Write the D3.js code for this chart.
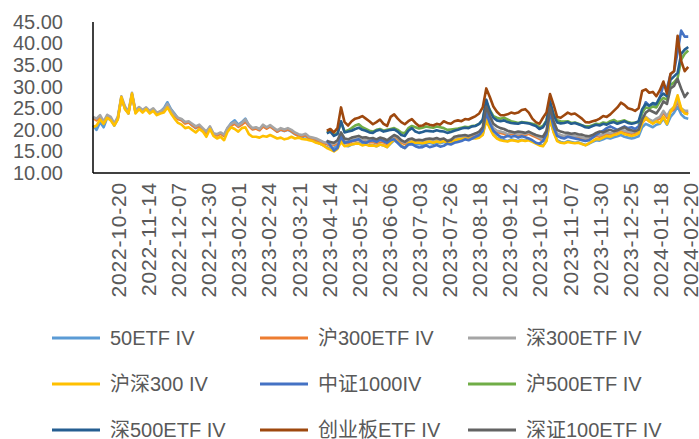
<!DOCTYPE html>
<html>
<head>
<meta charset="utf-8">
<script src="https://cdn.jsdelivr.net/npm/d3@7"></script>
<style>
  body { margin: 0; background: #fff; }
  text { font-family: "Liberation Sans", Arial, "Noto Sans CJK SC", sans-serif; fill: #595959; }
</style>
</head>
<body>
<div id="chart"></div>
<script>
// one point = 2 trading days, 2022-09 .. 2024-02-20
var tickDates = ["2022-10-20","2022-11-14","2022-12-07","2022-12-30","2023-02-01","2023-02-24",
  "2023-03-21","2023-04-14","2023-05-12","2023-06-06","2023-07-03","2023-07-26","2023-08-18",
  "2023-09-12","2023-10-13","2023-11-07","2023-11-30","2023-12-25","2024-01-18","2024-02-20"];
var firstTick = 7, tickStep = 8.5;   // in points
var yTicks = [10, 15, 20, 25, 30, 35, 40, 45];

var seriesNames = ["50ETF IV","沪300ETF IV","深300ETF IV","沪深300 IV","中证1000IV",
  "沪500ETF IV","深500ETF IV","创业板ETF IV","深证100ETF IV"];

var iv50Etf = [
  21.0,20.0,21.8,20.6,22.8,22.4,21.0,22.6,27.4,25.0,
  23.8,28.2,24.0,25.0,24.4,24.8,24.2,24.6,23.8,24.2,
  25.0,26.4,24.8,23.8,22.6,22.4,21.6,21.8,21.0,20.4,
  20.8,20.0,19.2,20.6,18.9,18.8,19.2,18.6,20.4,21.6,
  22.2,21.2,21.8,22.6,21.0,20.2,20.4,20.0,21.0,20.4,
  20.8,20.2,19.6,20.0,19.7,20.0,19.6,19.0,18.6,18.3,
  18.6,17.8,17.6,17.3,16.8,16.4,16.0,15.6,15.8,16.3,
  17.6,16.4,16.2,16.6,16.8,17.0,16.6,16.8,16.4,16.5,
  16.2,16.6,16.4,16.0,16.8,17.6,17.0,16.2,15.8,16.6,
  17.0,16.6,16.7,16.5,16.8,17.0,16.8,17.1,16.9,17.2,
  16.8,17.0,17.3,17.6,17.7,17.9,17.8,18.0,18.2,18.4,
  19.0,22.6,20.6,19.0,18.2,17.8,17.6,17.4,17.8,17.6,
  17.4,17.7,17.5,17.8,17.4,17.0,16.6,16.3,17.6,22.4,
  19.6,17.6,17.2,17.0,17.4,17.2,17.0,17.1,16.8,16.5,
  16.8,17.2,17.6,17.5,17.8,18.2,18.0,18.3,18.5,18.8,
  18.4,18.2,18.0,18.2,18.5,20.6,21.4,21.0,20.6,21.2,
  21.4,22.6,21.2,23.0,24.0,25.4,23.6,22.8,22.6];

var ivHu300Etf = [
  22.7,22.2,23.0,21.6,23.1,22.7,21.2,22.6,27.4,25.2,
  23.9,28.2,24.2,25.0,24.3,24.9,24.1,24.6,23.7,24.0,
  24.5,25.7,24.3,23.3,22.5,22.2,21.5,21.7,21.1,20.5,
  20.9,20.1,19.3,20.5,19.0,18.7,19.1,18.6,20.1,21.0,
  21.4,20.7,21.2,21.9,20.9,20.1,20.3,19.9,20.8,20.3,
  20.8,20.2,19.6,20.1,19.8,20.1,19.7,19.1,18.7,18.5,
  18.8,18.1,17.9,17.7,17.3,16.9,16.7,16.3,16.5,16.9,
  18.2,17.1,16.9,17.3,17.5,17.7,17.3,17.5,17.1,17.2,
  16.9,17.3,17.1,16.7,17.5,18.3,17.9,17.1,16.7,17.3,
  17.5,17.1,17.3,17.0,17.2,17.4,17.2,17.5,17.3,17.6,
  17.2,17.5,17.7,18.0,18.1,18.3,18.2,18.5,18.7,19.1,
  19.9,23.6,21.7,20.1,19.5,19.3,19.1,18.7,19.1,18.9,
  18.7,19.0,18.8,19.1,18.7,18.3,17.9,17.5,19.1,23.4,
  20.5,18.9,18.5,18.3,18.7,18.5,18.2,18.3,18.0,17.7,
  18.0,18.3,18.6,18.4,18.7,19.1,18.9,19.2,19.5,19.9,
  19.5,19.3,19.1,19.3,19.7,21.6,22.6,22.0,21.6,22.2,
  22.6,24.0,22.8,24.2,24.8,26.6,24.6,24.0,24.0];

var ivShen300Etf = [
  23.0,22.6,23.4,21.9,23.5,23.0,21.5,23.0,27.8,25.5,
  24.2,28.6,24.5,25.3,24.6,25.2,24.4,25.0,24.0,24.3,
  24.8,26.0,24.6,23.6,22.8,22.5,21.8,22.0,21.4,20.8,
  21.2,20.4,19.6,20.8,19.2,19.0,19.4,18.9,20.5,21.4,
  21.8,21.0,21.6,22.4,21.2,20.4,20.6,20.2,21.2,20.6,
  21.1,20.5,19.9,20.4,20.1,20.4,20.0,19.4,19.0,18.8,
  19.1,18.4,18.2,18.0,17.6,17.2,17.0,16.6,16.8,17.2,
  18.6,17.4,17.2,17.6,17.8,18.0,17.6,17.8,17.4,17.5,
  17.2,17.6,17.4,17.0,17.8,18.6,18.2,17.4,17.0,17.6,
  17.8,17.4,17.6,17.3,17.5,17.7,17.5,17.8,17.6,17.9,
  17.5,17.8,18.0,18.3,18.4,18.6,18.5,18.8,19.0,19.4,
  20.2,24.0,22.0,20.4,19.8,19.6,19.4,19.0,19.4,19.2,
  19.0,19.3,19.1,19.4,19.0,18.6,18.2,17.8,19.4,23.8,
  20.8,19.2,18.8,18.6,19.0,18.8,18.5,18.6,18.3,18.0,
  18.3,18.6,18.9,18.7,19.0,19.4,19.2,19.5,19.8,20.2,
  19.8,19.6,19.4,19.6,20.0,22.0,23.0,22.4,22.0,22.6,
  23.0,24.4,23.2,24.6,25.2,27.0,25.0,24.4,24.4];

var ivHs300 = [
  20.6,21.0,22.4,21.4,22.8,22.2,21.0,22.4,27.6,24.8,
  23.8,28.4,23.8,24.8,24.0,24.8,23.8,24.4,23.4,23.8,
  24.0,25.2,23.8,22.6,21.6,21.2,20.4,20.6,20.0,19.4,
  20.2,19.6,18.4,20.2,18.6,18.0,18.4,17.6,19.6,20.6,
  20.2,19.6,20.4,20.6,19.0,18.4,18.4,18.2,18.6,18.4,
  18.8,18.4,18.0,18.2,17.8,18.0,18.4,18.0,18.2,17.9,
  17.8,17.6,17.4,17.0,16.8,16.4,15.8,15.4,15.0,15.6,
  17.2,16.2,16.4,16.6,16.8,16.8,16.4,16.6,16.3,16.4,
  16.2,16.6,16.4,16.0,17.0,17.8,17.2,16.4,15.8,16.8,
  17.3,17.0,17.0,16.9,17.1,17.3,17.0,17.3,17.1,17.4,
  17.0,17.2,17.5,17.8,17.9,18.0,17.9,18.1,18.0,18.2,
  18.8,22.2,20.4,18.8,18.0,17.6,17.4,17.3,17.6,17.5,
  17.3,17.6,17.4,17.6,17.2,16.8,16.4,16.2,17.4,22.6,
  19.4,17.4,17.0,16.9,17.2,17.0,16.9,17.0,16.7,16.4,
  16.9,17.4,17.9,17.8,18.2,18.6,18.4,18.8,19.0,19.4,
  19.0,18.8,18.6,18.8,19.2,21.6,22.8,22.0,21.4,22.0,
  21.6,23.0,21.4,24.2,25.4,28.0,25.0,23.8,23.6];

// the next five series begin at point 66 (mid April 2023)
var lateStart = 66;

var ivZz1000 = [
  17.6,16.4,15.2,15.8,
  18.6,17.0,17.2,17.4,17.6,17.8,17.2,17.0,17.4,17.6,
  17.2,17.8,17.4,17.0,17.6,17.8,17.0,16.2,15.8,16.6,
  16.7,16.2,15.9,16.0,16.4,16.0,16.2,16.5,16.1,16.3,
  16.8,16.6,17.0,17.2,17.4,17.8,17.6,18.0,18.4,18.8,
  19.8,24.0,21.6,19.8,19.0,18.4,18.2,18.6,18.4,18.6,
  18.2,18.5,18.3,18.0,17.6,17.0,16.8,17.4,19.0,24.2,
  20.6,18.6,18.2,18.0,18.4,18.2,18.0,17.8,17.6,17.4,
  17.6,18.2,18.8,19.4,19.8,20.4,20.8,20.4,20.0,20.4,
  20.8,20.4,20.6,20.2,20.8,24.0,26.4,25.6,26.0,25.4,
  27.4,30.4,29.6,32.8,33.6,38.0,43.0,41.6,41.6];

var ivHu500Etf = [
  19.4,19.8,18.8,19.2,
  21.8,19.6,19.9,20.4,21.0,21.3,20.6,20.2,19.8,19.6,
  20.0,20.2,19.8,20.0,20.2,20.4,20.0,19.4,19.2,20.4,
  20.9,20.6,20.3,20.5,20.8,20.6,20.5,20.8,20.6,20.4,
  20.0,20.1,20.2,20.3,20.5,20.7,20.6,20.9,21.0,21.4,
  22.2,26.4,24.6,23.2,22.8,22.6,22.8,22.4,22.0,21.8,
  21.6,21.8,21.7,21.6,21.4,21.2,20.6,20.9,22.2,26.2,
  23.6,22.2,22.0,21.9,22.0,21.6,21.7,21.4,21.1,20.8,
  20.8,21.1,21.4,21.3,21.7,21.5,22.0,22.3,21.8,22.0,
  22.2,21.8,21.6,21.7,21.8,24.0,25.2,25.0,25.4,25.2,
  26.6,27.4,27.0,30.4,31.0,32.0,36.2,37.6,38.4];

var ivShen500Etf = [
  19.2,19.6,18.6,19.0,
  22.0,19.4,19.6,19.8,20.2,20.5,20.0,19.8,19.4,19.3,
  19.8,20.0,19.6,19.8,20.0,20.1,19.6,18.8,18.6,19.8,
  20.4,19.6,19.3,19.5,19.8,19.7,19.6,19.9,19.7,19.6,
  19.3,19.5,19.8,20.0,20.3,20.5,20.4,20.8,20.9,21.4,
  22.4,27.0,24.4,22.8,22.2,22.0,22.2,21.8,21.6,21.5,
  21.4,21.7,21.6,21.5,21.2,20.9,20.2,20.6,22.0,26.6,
  23.4,21.7,21.5,21.6,21.8,21.4,21.6,21.3,21.0,20.6,
  20.5,20.9,21.2,21.0,21.4,21.2,21.6,21.8,21.4,21.7,
  22.0,21.6,21.4,21.6,22.0,24.8,26.0,25.6,26.2,26.0,
  27.6,28.4,27.8,31.6,32.4,33.2,37.6,38.6,39.2];

var ivCybEtf = [
  19.8,20.2,19.4,20.4,
  25.2,21.8,21.0,22.0,22.6,22.8,23.2,22.6,22.0,21.3,
  21.8,22.4,21.4,20.9,23.0,23.6,22.6,21.8,21.3,22.0,
  22.5,21.6,20.9,21.0,21.5,21.2,21.0,21.4,21.2,22.0,
  21.6,21.4,22.0,22.2,22.0,22.5,22.4,22.8,23.2,23.8,
  25.2,29.6,27.6,25.4,24.2,23.4,23.4,23.6,24.0,23.8,
  24.0,24.6,24.8,24.0,22.6,21.8,21.4,22.8,24.0,28.3,
  25.8,23.0,22.8,23.4,24.0,23.6,23.8,23.2,22.6,21.8,
  21.7,22.0,22.2,22.6,23.2,23.0,23.6,24.4,25.2,26.3,
  25.8,25.0,24.8,24.4,25.0,29.0,29.4,28.6,28.8,27.8,
  29.2,31.2,28.4,33.0,33.6,41.8,36.0,33.6,34.6];

var ivSz100Etf = [
  17.4,17.2,17.0,17.6,
  19.4,18.0,17.8,18.2,18.4,18.6,18.2,18.3,18.0,18.1,
  17.8,18.2,18.0,17.6,18.2,18.8,18.4,17.6,17.2,17.8,
  18.0,17.6,17.7,17.6,17.9,18.0,17.9,18.1,17.8,18.0,
  17.4,17.6,18.4,18.6,18.7,18.8,18.6,18.9,19.2,19.6,
  20.6,25.4,23.2,21.4,20.8,20.4,20.2,19.8,19.6,19.4,
  19.6,19.5,19.3,19.6,19.2,18.8,18.6,18.4,19.8,25.2,
  22.0,20.0,19.6,19.4,19.3,19.1,19.2,19.0,18.9,18.6,
  18.5,18.8,19.3,19.6,19.4,19.8,20.0,19.7,19.9,20.3,
  20.6,20.1,19.9,19.7,20.0,22.4,24.0,24.6,24.2,23.8,
  25.0,26.6,26.0,29.6,30.2,31.8,29.6,27.6,28.7];

var colors = ["#5b9bd5","#ed7d31","#a5a5a5","#ffc000","#4472c4","#70ad47","#255e91","#9e480e","#636363"];

var series = [
  {name: seriesNames[0], start: 0, values: iv50Etf},
  {name: seriesNames[1], start: 0, values: ivHu300Etf},
  {name: seriesNames[2], start: 0, values: ivShen300Etf},
  {name: seriesNames[3], start: 0, values: ivHs300},
  {name: seriesNames[4], start: lateStart, values: ivZz1000},
  {name: seriesNames[5], start: lateStart, values: ivHu500Etf},
  {name: seriesNames[6], start: lateStart, values: ivShen500Etf},
  {name: seriesNames[7], start: lateStart, values: ivCybEtf},
  {name: seriesNames[8], start: lateStart, values: ivSz100Etf}
];

var width = 699, height = 439;
var plot = {left: 93, right: 690, top: 22, bottom: 173};

var svg = d3.select("#chart").append("svg")
  .attr("width", width)
  .attr("height", height);

var x = d3.scaleLinear()
  .domain([0, firstTick + tickStep * (tickDates.length - 1)])
  .range([plot.left, plot.right]);

var y = d3.scaleLinear()
  .domain([10, 45])
  .range([plot.bottom, plot.top]);

// y axis labels
var yAxis = svg.append("g")
  .attr("transform", "translate(" + plot.left + ",0)")
  .call(d3.axisLeft(y).tickValues(yTicks).tickFormat(d3.format(".2f")).tickSize(0).tickPadding(30));
yAxis.select(".domain").remove();
yAxis.selectAll("text")
  .attr("font-size", 20)
  .attr("font-family", null)
  .attr("fill", "#595959");

// x axis labels (every 17 trading days)
var tickPos = tickDates.map(function(d, i) { return firstTick + tickStep * i; });
var xAxis = svg.append("g")
  .attr("transform", "translate(0," + plot.bottom + ")")
  .call(d3.axisBottom(x).tickValues(tickPos).tickFormat(function(d, i) { return tickDates[i]; }).tickSize(0));
xAxis.select(".domain").remove();
xAxis.selectAll("text")
  .attr("font-size", 21)
  .attr("letter-spacing", 0.8)
  .attr("font-family", null)
  .attr("fill", "#595959")
  .attr("text-anchor", "end")
  .attr("transform", "rotate(-90)")
  .attr("x", -9)
  .attr("y", 0)
  .attr("dy", "0.36em");

// lines
var line = d3.line()
  .x(function(d) { return x(d.i); })
  .y(function(d) { return y(d.v); });

svg.append("g").selectAll("path")
  .data(series)
  .enter().append("path")
  .attr("fill", "none")
  .attr("stroke", function(d, i) { return colors[i]; })
  .attr("stroke-width", 2.6)
  .attr("stroke-linejoin", "round")
  .attr("d", function(s) {
    return line(s.values.map(function(v, k) { return {i: s.start + k, v: v}; }));
  });

// axis lines
svg.append("line")
  .attr("x1", plot.left).attr("x2", plot.left)
  .attr("y1", plot.top).attr("y2", plot.bottom)
  .attr("stroke", "#000").attr("stroke-width", 1.5);
svg.append("line")
  .attr("x1", plot.left).attr("x2", plot.right)
  .attr("y1", plot.bottom).attr("y2", plot.bottom)
  .attr("stroke", "#000").attr("stroke-width", 1.5);

// legend, 3 x 3
var legendCols = [52, 260, 468], legendRows = [338, 384, 430];
var legend = svg.append("g").selectAll("g")
  .data(series)
  .enter().append("g")
  .attr("transform", function(d, i) {
    return "translate(" + legendCols[i % 3] + "," + legendRows[Math.floor(i / 3)] + ")";
  });

legend.append("line")
  .attr("x1", 0).attr("x2", 48)
  .attr("stroke", function(d, i) { return colors[i]; })
  .attr("stroke-width", 3);

legend.append("text")
  .attr("x", 58)
  .attr("dy", "0.36em")
  .attr("font-size", 20)
  .text(function(d) { return d.name; });
</script>
</body>
</html>
